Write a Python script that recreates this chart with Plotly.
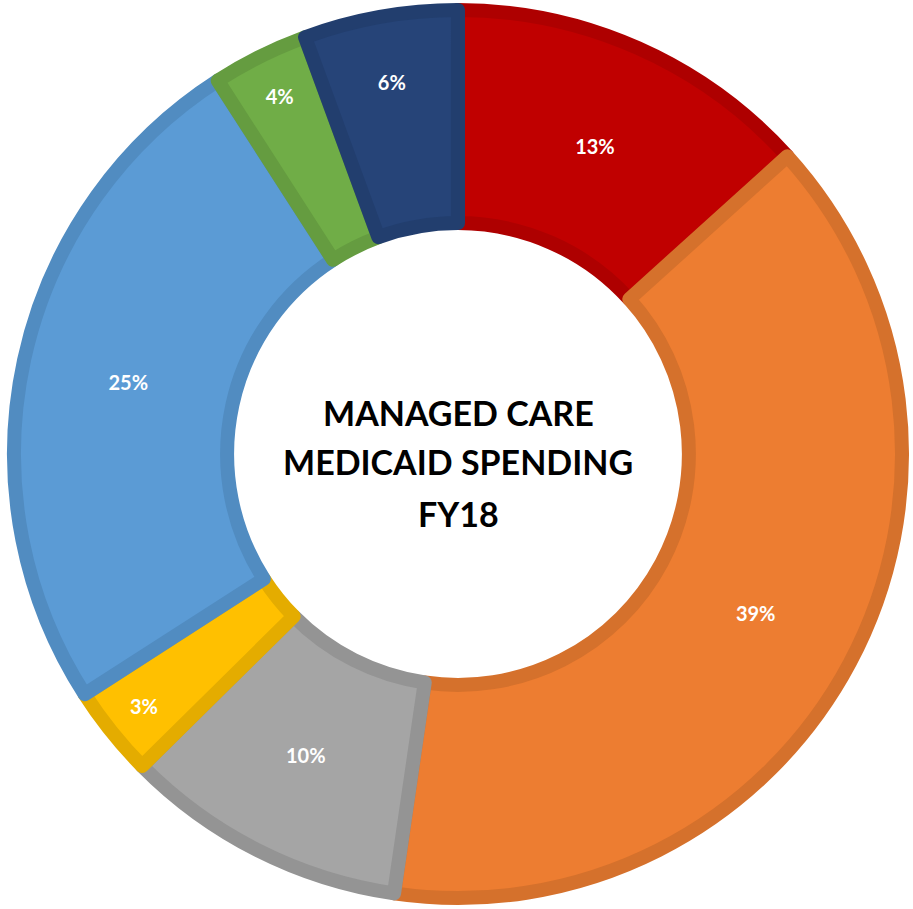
import plotly.graph_objects as go

categories = ["Red", "Orange", "Gray", "Yellow", "Blue", "Green", "Navy"]
values = [13.3, 39.0, 10.3, 3.3, 25.0, 3.5, 5.6]
fill_colors = ["#C00000", "#ED7D31", "#A5A5A5", "#FFC000", "#5B9BD5", "#70AD47", "#264478"]
border_colors = ["#AE0000", "#D5712C", "#949494", "#E4AC00", "#518CC1", "#659C40", "#223E6E"]
center_lines = ["MANAGED CARE", "MEDICAID SPENDING", "FY18"]

fig = go.Figure(go.Pie(
    labels=categories,
    values=values,
    hole=0.52,
    sort=False,
    direction="clockwise",
    rotation=0,
    marker=dict(colors=fill_colors, line=dict(color=border_colors, width=14)),
    texttemplate="%{percent:.0%}",
    textposition="inside",
    insidetextorientation="horizontal",
    textfont=dict(family="Lato", size=20, color="white", weight="bold"),
    showlegend=False,
))

ys = [0.5472, 0.4917, 0.4329]
for line, y in zip(center_lines, ys):
    fig.add_annotation(text=line, x=0.5, y=y, xref="paper", yref="paper",
                       showarrow=False, xanchor="center", yanchor="middle",
                       font=dict(family="Lato", size=34, color="black", weight="bold"))

fig.update_layout(width=913, height=909, margin=dict(l=14, r=11, t=10, b=11),
                  paper_bgcolor="white", plot_bgcolor="white",
                  uniformtext=dict(minsize=20, mode="show"))
fig.write_html("out.html", config={"displayModeBar": False},
               post_script="document.body.style.margin='0';")
